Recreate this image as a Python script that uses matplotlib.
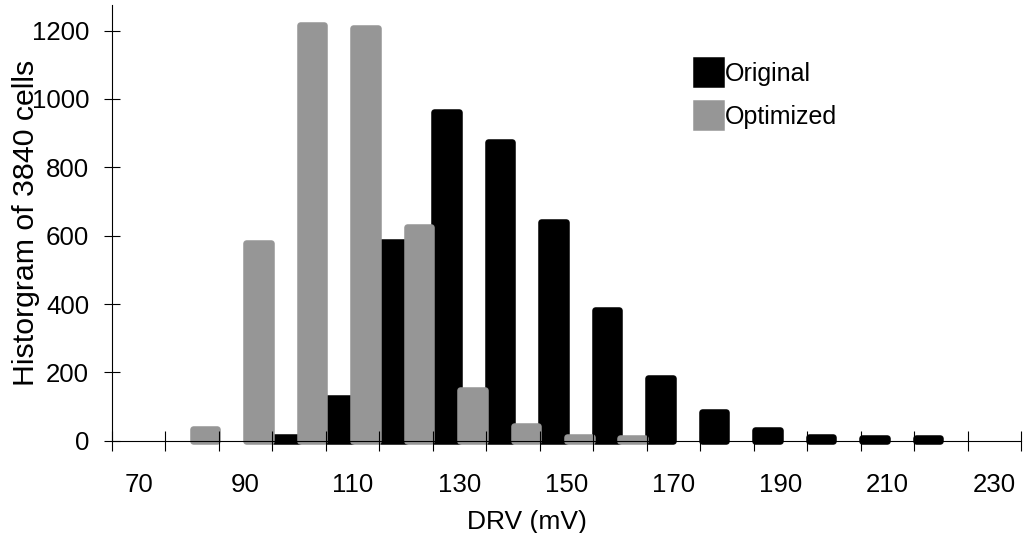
import numpy as np
import matplotlib
matplotlib.use("Agg")
from matplotlib import pyplot as plt

plt.rcParams['font.family'] = ['Liberation Sans', 'DejaVu Sans']

# DRV bins (mV) and cell counts per bin
drv = [70, 80, 90, 100, 110, 120, 130, 140, 150, 160, 170, 180, 190, 200, 210, 220, 230]
original = [0, 0, 0, 10, 126, 581, 961, 873, 640, 381, 183, 85, 30, 10, 7, 7, 0]
optimized = [0, 33, 578, 1217, 1207, 625, 148, 42, 10, 7, 0, 0, 0, 0, 0, 0, 0]
tick_labels = ["70", "90", "110", "130", "150", "170", "190", "210", "230"]

black = "#000000"
grey = "#969696"

fig = plt.figure(figsize=(10.31, 5.33), dpi=100)
ax = fig.add_axes([0.1086, 0.1732, 0.8817, 0.8174])

x = np.array(drv, dtype=float)
orig = np.array(original, dtype=float)
opt = np.array(optimized, dtype=float)
w = 4.6
off = 2.4

# rounded bars: thick edge stroke with round joins; empty bins are skipped
m1 = orig > 0
m2 = opt > 0
ax.bar(x[m1] - off, orig[m1], width=w, color=black, edgecolor=black,
       linewidth=4.7, joinstyle="round", clip_on=False, label="Original")
ax.bar(x[m2] + off, opt[m2], width=w, color=grey, edgecolor=grey,
       linewidth=4.7, joinstyle="round", clip_on=False, label="Optimized")

ax.set_xlim(65, 235)
ax.set_ylim(0, 1275)

for s in ["top", "right"]:
    ax.spines[s].set_visible(False)
ax.spines["bottom"].set_position(("data", 0))
ax.spines["left"].set_linewidth(0.8)
ax.spines["bottom"].set_linewidth(0.8)

# tick marks at bin edges, labels at every other bin centre
ax.set_xticks(np.arange(65, 236, 10))
ax.set_xticklabels([])
ax.set_xticks(np.arange(70, 231, 20), tick_labels, minor=True)
ax.tick_params(axis="x", which="major", direction="inout", length=13.7, width=0.8)
ax.tick_params(axis="x", which="minor", length=0, pad=23, labelsize=18.6)

ax.set_yticks(np.arange(0, 1201, 200))
ax.tick_params(axis="y", direction="inout", length=12, width=0.8, pad=10.5, labelsize=18.6)

ax.set_xlabel("DRV (mV)", fontsize=19)
ax.xaxis.set_label_coords(0.4565, -0.16)
ax.set_ylabel("Historgram of 3840 cells", fontsize=21.8)
ax.yaxis.set_label_coords(-0.079, 0.5)

ax.legend(loc="upper left", bbox_to_anchor=(0.643, 0.873), frameon=False,
          fontsize=18, handlelength=0.97, handleheight=1.08,
          handletextpad=0.15, labelspacing=0.7, borderpad=0, borderaxespad=0)

fig.savefig("out.png", dpi=100)
